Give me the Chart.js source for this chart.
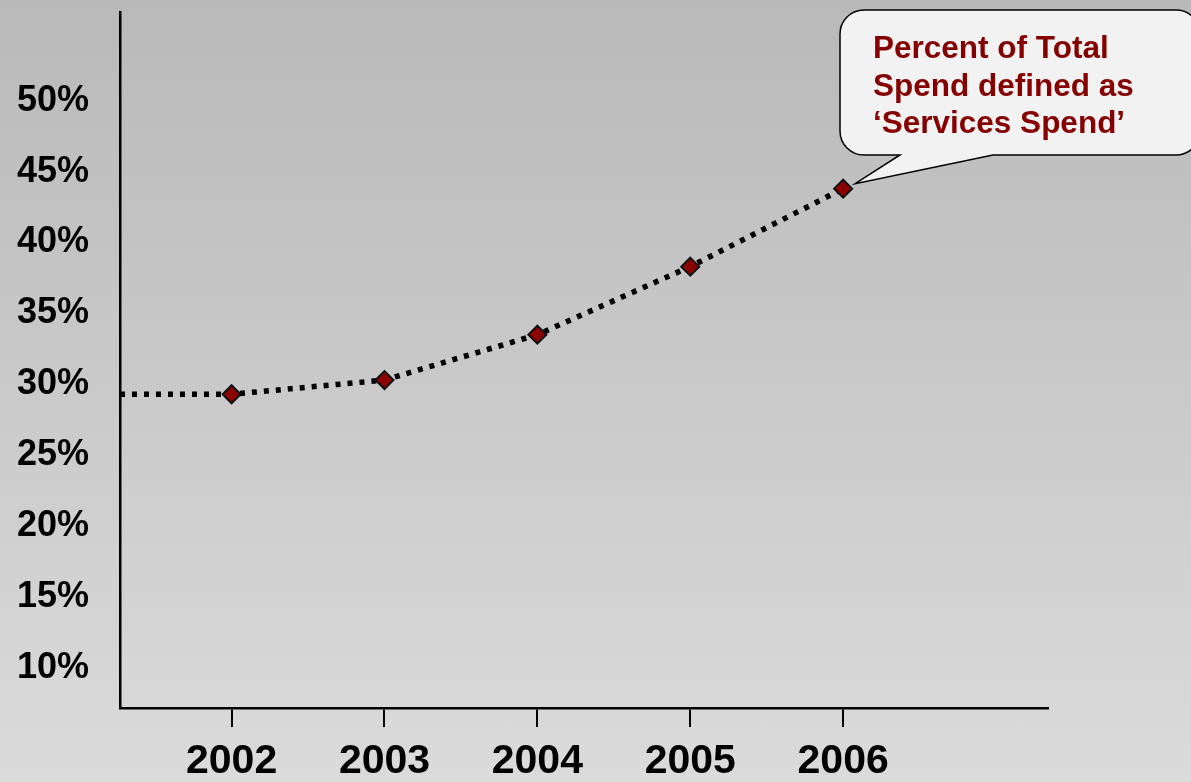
<!DOCTYPE html>
<html>
<head>
<meta charset="utf-8">
<script src="https://cdn.jsdelivr.net/npm/chart.js@4/dist/chart.umd.min.js"></script>
<style>
  html, body { margin: 0; padding: 0; }
  body {
    width: 1191px; height: 782px; overflow: hidden;
    background: linear-gradient(to bottom, #b9b9b9 0%, #c8c8c8 45%, #dbdbdb 100%);
  }
  #wrap { position: relative; width: 1191px; height: 782px; }
  canvas { display: block; }
</style>
</head>
<body>
<div id="wrap"><canvas id="myChart" width="1191" height="782"></canvas></div>
<script>
// data
const years = [2002, 2003, 2004, 2005, 2006];
const servicesShare = [29.3, 30.3, 33.5, 38.3, 43.8];
const yTicks = [10, 15, 20, 25, 30, 35, 40, 45, 50];
const calloutLines = ["Percent of Total", "Spend defined as", "\u2018Services Spend\u2019"];

const X_MIN = 2001.27;
const X_MAX = 2007.34;
const Y_MIN = 7.17;
const Y_MAX = 56.26;

const FONT = "'Liberation Sans', Arial, Helvetica, sans-serif";

// line starts at the y axis, level with 2002
const points = [{ x: X_MIN, y: servicesShare[0] }].concat(
  years.map((yr, i) => ({ x: yr, y: servicesShare[i] }))
);

const callout = {
  id: "callout",
  afterDraw(chart) {
    const ctx = chart.ctx;
    const meta = chart.getDatasetMeta(0);
    const last = meta.data[meta.data.length - 1];
    const tipX = last.x + 12;
    const tipY = last.y - 5;

    const left = 840, top = 10, right = 1200, bottom = 155, r = 24;
    ctx.save();
    ctx.beginPath();
    ctx.moveTo(left + r, top);
    ctx.lineTo(right - r, top);
    ctx.arcTo(right, top, right, top + r, r);
    ctx.lineTo(right, bottom - r);
    ctx.arcTo(right, bottom, right - r, bottom, r);
    ctx.lineTo(993, bottom);
    ctx.lineTo(tipX, tipY);
    ctx.lineTo(900, bottom);
    ctx.lineTo(left + r, bottom);
    ctx.arcTo(left, bottom, left, bottom - r, r);
    ctx.lineTo(left, top + r);
    ctx.arcTo(left, top, left + r, top, r);
    ctx.closePath();
    ctx.fillStyle = "#f2f2f2";
    ctx.fill();
    ctx.lineWidth = 1.5;
    ctx.strokeStyle = "#000";
    ctx.stroke();

    ctx.fillStyle = "#850000";
    ctx.font = "bold 31.5px " + FONT;
    ctx.textAlign = "left";
    ctx.textBaseline = "alphabetic";
    calloutLines.forEach((t, i) => {
      ctx.fillText(t, 873, 58 + i * 37.5);
    });
    ctx.restore();
  }
};

const ctx = document.getElementById("myChart").getContext("2d");
const chart = new Chart(ctx, {
  type: "line",
  data: {
    datasets: [
      {
        label: "Services Spend",
        data: points,
        borderColor: "#000",
        borderWidth: 5.5,
        borderDash: [5, 7],
        borderCapStyle: "butt",
        tension: 0,
        pointStyle: "rectRot",
        pointRadius: points.map((p, i) => (i === 0 ? 0 : 9)),
        pointBackgroundColor: "#8b0000",
        pointBorderColor: "#111",
        pointBorderWidth: 2,
        clip: false,
      },
    ],
  },
  options: {
    responsive: false,
    animation: false,
    devicePixelRatio: 1,
    layout: { padding: { left: 0, right: 143, top: 12, bottom: 0 } },
    plugins: {
      legend: { display: false },
      tooltip: { enabled: false },
    },
    scales: {
      x: {
        type: "linear",
        min: X_MIN,
        max: X_MAX,
        afterBuildTicks: (scale) => {
          scale.ticks = years.map((v) => ({ value: v }));
        },
        afterFit: (scale) => {
          scale.height = 74;
          scale.paddingLeft = 0;
          scale.paddingRight = 0;
        },
        border: { display: true, color: "#000", width: 2.5 },
        grid: {
          drawOnChartArea: false,
          drawTicks: true,
          tickLength: 19,
          color: "#000",
          lineWidth: 2,
        },
        ticks: {
          autoSkip: false,
          maxRotation: 0,
          padding: 10,
          color: "#000",
          font: { family: FONT, size: 41, weight: "bold" },
          callback: (v) => String(v),
        },
      },
      y: {
        type: "linear",
        min: Y_MIN,
        max: Y_MAX,
        afterBuildTicks: (scale) => {
          scale.ticks = yTicks.map((v) => ({ value: v }));
        },
        afterFit: (scale) => {
          scale.width = 120;
          scale.paddingTop = 0;
          scale.paddingBottom = 0;
        },
        border: { display: true, color: "#000", width: 2.5 },
        grid: { display: false, drawTicks: false },
        ticks: {
          padding: 31,
          color: "#000",
          font: { family: FONT, size: 36, weight: "bold" },
          callback: (v) => v + "%",
        },
      },
    },
  },
  plugins: [callout],
});
</script>
</body>
</html>
